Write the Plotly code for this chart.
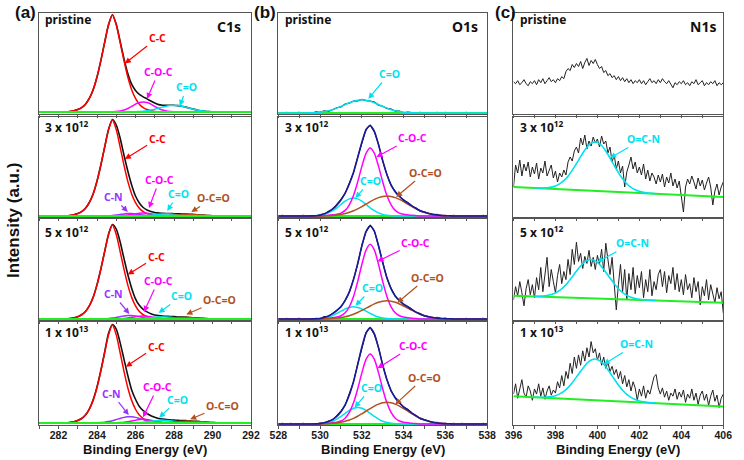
import plotly.graph_objects as go

W, H = 744, 460

# ---------------- energy grids ----------------
C1S_X = [round(281.0 + 0.2 * i, 1) for i in range(56)]
O1S_X = [round(528.0 + 0.2 * i, 1) for i in range(51)]
N1S_X = [round(396.0 + 0.1 * i, 1) for i in range(101)]
N1S_FIT_X = [round(397.0 + 0.2 * i, 1) for i in range(30)]
N1S_BG_X = [396.0, 406.0]

SAMPLES = ["pristine", "3 x 10<sup>12</sup>", "5 x 10<sup>12</sup>", "1 x 10<sup>13</sup>"]
CORE_LEVELS = ["C1s", "O1s", "N1s"]
C1S_TICKS = list(range(281, 293))
O1S_TICKS = list(range(528, 539))
N1S_TICKS = list(range(396, 407))

# ---------------- C1s ----------------
C1S_BG = [0.02, 0.01, 0.01, 0.02]

C1S_RAW_P = [0.02] * 8 + [0.025, 0.032, 0.044, 0.063, 0.097, 0.154, 0.24, 0.366, 0.529, 0.711, 0.884, 0.982, 0.888, 0.72, 0.548, 0.401, 0.295, 0.233, 0.195, 0.17, 0.15, 0.128, 0.108, 0.093, 0.087, 0.086, 0.087, 0.087, 0.083, 0.077, 0.068, 0.058, 0.048, 0.039, 0.032, 0.027, 0.024, 0.022] + [0.02] * 10
C1S_RAW_3E12 = [0.01] * 8 + [0.015, 0.022, 0.034, 0.053, 0.087, 0.145, 0.23, 0.36, 0.52, 0.70, 0.875, 0.975, 0.92, 0.79, 0.62, 0.46, 0.32, 0.21, 0.14, 0.095, 0.07, 0.055, 0.045, 0.04, 0.036, 0.035, 0.035, 0.033, 0.032, 0.03, 0.029, 0.028, 0.025, 0.022, 0.02, 0.017, 0.015, 0.013] + [0.012, 0.011, 0.011, 0.01, 0.01, 0.01, 0.01, 0.01, 0.01, 0.01]
C1S_RAW_5E12 = [0.01] * 8 + [0.015, 0.022, 0.033, 0.052, 0.085, 0.14, 0.225, 0.35, 0.505, 0.68, 0.85, 0.945, 0.90, 0.775, 0.61, 0.45, 0.315, 0.21, 0.145, 0.105, 0.08, 0.062, 0.05, 0.043, 0.039, 0.037, 0.035, 0.034, 0.03, 0.029, 0.028, 0.025, 0.022, 0.02, 0.017, 0.015, 0.013, 0.012] + [0.011, 0.011, 0.01, 0.01, 0.01, 0.01, 0.01, 0.01, 0.01, 0.01]
C1S_RAW_1E13 = [0.02] * 8 + [0.025, 0.031, 0.044, 0.063, 0.098, 0.155, 0.245, 0.37, 0.53, 0.71, 0.89, 0.975, 0.93, 0.80, 0.64, 0.48, 0.34, 0.25, 0.18, 0.14, 0.112, 0.09, 0.075, 0.064, 0.058, 0.053, 0.05, 0.047, 0.045, 0.043, 0.042, 0.04, 0.037, 0.035, 0.032, 0.029, 0.026, 0.024, 0.022, 0.021] + [0.02] * 8

C1S_CC_P = [0] * 8 + [0.005, 0.012, 0.024, 0.043, 0.077, 0.134, 0.221, 0.346, 0.509, 0.691, 0.864, 0.96, 0.864, 0.691, 0.509, 0.346, 0.221, 0.134, 0.077, 0.043, 0.024, 0.012, 0.005] + [0] * 25
C1S_CC_3E12 = [0] * 8 + [0.005, 0.012, 0.024, 0.043, 0.077, 0.134, 0.221, 0.346, 0.509, 0.691, 0.864, 0.96, 0.864, 0.691, 0.509, 0.346, 0.221, 0.134, 0.077, 0.043, 0.024, 0.012, 0.005] + [0] * 25
C1S_CC_5E12 = [0] * 8 + [0.005, 0.011, 0.023, 0.042, 0.074, 0.130, 0.214, 0.335, 0.493, 0.670, 0.837, 0.93, 0.837, 0.670, 0.493, 0.335, 0.214, 0.130, 0.074, 0.042, 0.023, 0.011, 0.005] + [0] * 25
C1S_CC_1E13 = [0] * 8 + [0.005, 0.011, 0.024, 0.043, 0.076, 0.133, 0.219, 0.342, 0.504, 0.684, 0.855, 0.95, 0.855, 0.684, 0.504, 0.342, 0.219, 0.133, 0.076, 0.043, 0.024, 0.011, 0.005] + [0] * 25

C1S_COC_P = [0] * 19 + [0.0015, 0.004, 0.009, 0.019, 0.035, 0.055, 0.077, 0.094, 0.10, 0.094, 0.077, 0.055, 0.035, 0.019, 0.009, 0.004, 0.0015] + [0] * 20
C1S_COC_3E12 = [0] * 20 + [0.0012, 0.0028, 0.0058, 0.0105, 0.0166, 0.023, 0.028, 0.03, 0.028, 0.023, 0.0166, 0.0105, 0.0058, 0.0028, 0.0012] + [0] * 21
C1S_COC_5E12 = [0] * 20 + [0.0012, 0.0028, 0.0058, 0.0105, 0.0166, 0.023, 0.028, 0.03, 0.028, 0.023, 0.0166, 0.0105, 0.0058, 0.0028, 0.0012] + [0] * 21
C1S_COC_1E13 = [0] * 20 + [0.0014, 0.0033, 0.0067, 0.0123, 0.0194, 0.027, 0.0328, 0.035, 0.0328, 0.027, 0.0194, 0.0123, 0.0067, 0.0033, 0.0014] + [0] * 21

C1S_CO_P = [0] * 24 + [0.001, 0.002, 0.004, 0.007, 0.012, 0.019, 0.028, 0.038, 0.048, 0.057, 0.063, 0.065, 0.063, 0.057, 0.048, 0.038, 0.028, 0.019, 0.012, 0.007, 0.004, 0.002, 0.001] + [0] * 9
C1S_CO_3E12 = [0] * 26 + [0.0013, 0.0026, 0.005, 0.008, 0.012, 0.016, 0.019, 0.02, 0.019, 0.016, 0.012, 0.008, 0.005, 0.0026, 0.0013] + [0] * 15
C1S_CO_5E12 = [0] * 25 + [0.0013, 0.0026, 0.005, 0.008, 0.012, 0.016, 0.019, 0.02, 0.019, 0.016, 0.012, 0.008, 0.005, 0.0026, 0.0013] + [0] * 16
C1S_CO_1E13 = [0] * 25 + [0.0022, 0.0043, 0.0073, 0.0114, 0.016, 0.0205, 0.0238, 0.025, 0.0238, 0.0205, 0.016, 0.0114, 0.0073, 0.0043, 0.0022] + [0] * 16

C1S_CN_3E12 = [0] * 17 + [0.001, 0.0024, 0.005, 0.0097, 0.0155, 0.021, 0.0245, 0.0245, 0.021, 0.0155, 0.0097, 0.005, 0.0024, 0.001] + [0] * 25
C1S_CN_5E12 = [0] * 16 + [0.0009, 0.0022, 0.0048, 0.0093, 0.0157, 0.0232, 0.0302, 0.0344, 0.0344, 0.0302, 0.0232, 0.0157, 0.0093, 0.0048, 0.0022, 0.0009] + [0] * 24
C1S_CN_1E13 = [0] * 15 + [0.0017, 0.0037, 0.0075, 0.0135, 0.022, 0.033, 0.044, 0.054, 0.059, 0.059, 0.054, 0.044, 0.033, 0.022, 0.0135, 0.0075, 0.0037, 0.0017] + [0] * 23

C1S_OCO_3E12 = [0] * 32 + [0.0013, 0.0026, 0.0044, 0.0068, 0.0096, 0.012, 0.014, 0.015, 0.014, 0.012, 0.0096, 0.0068, 0.0044, 0.0026, 0.0013] + [0] * 9
C1S_OCO_5E12 = [0] * 31 + [0.0013, 0.0026, 0.0044, 0.0068, 0.0096, 0.012, 0.014, 0.015, 0.014, 0.012, 0.0096, 0.0068, 0.0044, 0.0026, 0.0013] + [0] * 10
C1S_OCO_1E13 = [0] * 31 + [0.0011, 0.0022, 0.0038, 0.0061, 0.009, 0.0122, 0.0151, 0.0172, 0.018, 0.0172, 0.0151, 0.0122, 0.009, 0.0061, 0.0038, 0.0022, 0.0011] + [0] * 8

# ---------------- O1s ----------------
O1S_BG = [0.01, 0.01, 0.01, 0.01]

O1S_RAW_P = [0.014, 0.007, 0.016, 0.005, 0.012, 0.017, 0.006, 0.012, 0.006, 0.02, 0.016, 0.03, 0.025, 0.046, 0.062, 0.07, 0.099, 0.108, 0.128, 0.13, 0.145, 0.132, 0.129, 0.118, 0.088, 0.077, 0.055, 0.049, 0.028, 0.029, 0.012, 0.018, 0.016, 0.009, 0.016, 0.005, 0.012, 0.006, 0.017, 0.007, 0.015, 0.004, 0.012, 0.014, 0.005, 0.016, 0.007, 0.013, 0.006, 0.015, 0.008]
O1S_RAW_3E12 = [0.006, 0.016, 0.008, 0.015, 0.004, 0.013, 0.017, 0.005, 0.013, 0.01, 0.024, 0.028, 0.056, 0.074, 0.122, 0.176, 0.237, 0.334, 0.441, 0.598, 0.745, 0.876, 0.919, 0.851, 0.728, 0.558, 0.426, 0.315, 0.256, 0.207, 0.165, 0.146, 0.108, 0.09, 0.056, 0.052, 0.037, 0.022, 0.026, 0.011, 0.016, 0.01, 0.016, 0.006, 0.015, 0.004, 0.013, 0.014, 0.005, 0.016, 0.007]
O1S_RAW_5E12 = [0.014, 0.007, 0.016, 0.005, 0.012, 0.017, 0.006, 0.011, 0.005, 0.017, 0.013, 0.033, 0.033, 0.066, 0.097, 0.128, 0.198, 0.275, 0.402, 0.552, 0.738, 0.872, 0.937, 0.883, 0.73, 0.569, 0.415, 0.315, 0.234, 0.196, 0.152, 0.133, 0.106, 0.076, 0.063, 0.038, 0.034, 0.02, 0.026, 0.012, 0.018, 0.006, 0.012, 0.014, 0.005, 0.016, 0.007, 0.013, 0.006, 0.015, 0.008]
O1S_RAW_1E13 = [0.006, 0.016, 0.008, 0.015, 0.004, 0.013, 0.017, 0.005, 0.012, 0.008, 0.019, 0.019, 0.039, 0.048, 0.087, 0.135, 0.193, 0.295, 0.416, 0.59, 0.754, 0.898, 0.947, 0.879, 0.753, 0.579, 0.442, 0.329, 0.267, 0.216, 0.172, 0.152, 0.113, 0.093, 0.059, 0.053, 0.038, 0.023, 0.026, 0.011, 0.016, 0.01, 0.016, 0.006, 0.015, 0.004, 0.013, 0.014, 0.005, 0.016, 0.007]

O1S_CO_P = [0] * 7 + [0.0012, 0.0024, 0.0045, 0.008, 0.014, 0.022, 0.033, 0.048, 0.065, 0.083, 0.101, 0.116, 0.126, 0.13, 0.126, 0.116, 0.101, 0.083, 0.065, 0.048, 0.033, 0.022, 0.014, 0.008, 0.0045, 0.0024, 0.0012] + [0] * 17

O1S_COC_3E12 = [0] * 11 + [0.0035, 0.007, 0.012, 0.017, 0.029, 0.056, 0.112, 0.205, 0.34, 0.496, 0.627, 0.68, 0.627, 0.496, 0.34, 0.205, 0.112, 0.056, 0.029, 0.017, 0.012, 0.007, 0.0035] + [0] * 17
O1S_CO_3E12 = [0] * 8 + [0.001, 0.003, 0.008, 0.016, 0.031, 0.053, 0.082, 0.115, 0.148, 0.171, 0.18, 0.171, 0.148, 0.115, 0.082, 0.053, 0.031, 0.016, 0.008, 0.003, 0.001] + [0] * 22
O1S_OCO_3E12 = [0] * 11 + [0.002, 0.003, 0.006, 0.010, 0.016, 0.025, 0.037, 0.052, 0.072, 0.094, 0.118, 0.143, 0.166, 0.184, 0.196, 0.2, 0.196, 0.184, 0.166, 0.143, 0.118, 0.094, 0.072, 0.052, 0.037, 0.025, 0.016, 0.010, 0.006, 0.003, 0.002] + [0] * 9

O1S_COC_5E12 = [0] * 11 + [0.0037, 0.0074, 0.013, 0.019, 0.032, 0.061, 0.121, 0.223, 0.37, 0.539, 0.682, 0.74, 0.682, 0.539, 0.37, 0.223, 0.121, 0.061, 0.032, 0.019, 0.013, 0.0074, 0.0037] + [0] * 17
O1S_CO_5E12 = [0] * 8 + [0.001, 0.002, 0.005, 0.011, 0.020, 0.035, 0.0545, 0.077, 0.0985, 0.114, 0.12, 0.114, 0.0985, 0.077, 0.0545, 0.035, 0.020, 0.011, 0.005, 0.002, 0.001] + [0] * 22
O1S_OCO_5E12 = [0] * 11 + [0.002, 0.003, 0.005, 0.009, 0.014, 0.022, 0.033, 0.047, 0.064, 0.085, 0.107, 0.129, 0.149, 0.166, 0.176, 0.18, 0.176, 0.166, 0.149, 0.129, 0.107, 0.085, 0.064, 0.047, 0.033, 0.022, 0.014, 0.009, 0.005, 0.003, 0.002] + [0] * 9

O1S_COC_1E13 = [0] * 11 + [0.0035, 0.007, 0.012, 0.017, 0.029, 0.056, 0.112, 0.205, 0.34, 0.496, 0.627, 0.68, 0.627, 0.496, 0.34, 0.205, 0.112, 0.056, 0.029, 0.017, 0.012, 0.007, 0.0035] + [0] * 17
O1S_CO_1E13 = [0] * 9 + [0.001, 0.003, 0.007, 0.014, 0.027, 0.047, 0.073, 0.103, 0.131, 0.152, 0.16, 0.152, 0.131, 0.103, 0.073, 0.047, 0.027, 0.014, 0.007, 0.003, 0.001] + [0] * 21
O1S_OCO_1E13 = [0] * 11 + [0.002, 0.003, 0.006, 0.010, 0.017, 0.026, 0.038, 0.055, 0.075, 0.099, 0.124, 0.150, 0.174, 0.193, 0.206, 0.21, 0.206, 0.193, 0.174, 0.150, 0.124, 0.099, 0.075, 0.055, 0.038, 0.026, 0.017, 0.010, 0.006, 0.003, 0.002] + [0] * 9

# ---------------- N1s ----------------
N1S_RAW_P = [0.32, 0.30, 0.33, 0.29, 0.31, 0.34, 0.30, 0.28, 0.32, 0.30,
             0.33, 0.29, 0.34, 0.31, 0.35, 0.30, 0.33, 0.36, 0.32, 0.34,
             0.31, 0.35, 0.33, 0.37, 0.35, 0.42, 0.45, 0.43, 0.49, 0.46,
             0.50, 0.47, 0.52, 0.45, 0.51, 0.55, 0.48, 0.53, 0.50, 0.54,
             0.49, 0.45, 0.47, 0.41, 0.43, 0.38, 0.40, 0.36, 0.38, 0.34,
             0.37, 0.33, 0.36, 0.32, 0.35, 0.31, 0.34, 0.30, 0.33, 0.31,
             0.34, 0.30, 0.33, 0.29, 0.32, 0.35, 0.31, 0.33, 0.30, 0.34,
             0.31, 0.35, 0.32, 0.30, 0.33, 0.29, 0.26, 0.31, 0.29, 0.32,
             0.30, 0.33, 0.29, 0.31, 0.28, 0.32, 0.30, 0.34, 0.29, 0.31,
             0.33, 0.28, 0.31, 0.29, 0.32, 0.30, 0.33, 0.28, 0.31, 0.29,
             0.31]
N1S_RAW_3E12 = [0.30, 0.52, 0.44, 0.57, 0.41, 0.53, 0.46, 0.55, 0.40, 0.50,
                0.43, 0.54, 0.38, 0.49, 0.44, 0.56, 0.41, 0.47, 0.52, 0.39,
                0.46, 0.35, 0.44, 0.40, 0.47, 0.42, 0.55, 0.60, 0.56, 0.66,
                0.70, 0.64, 0.79, 0.72, 0.82, 0.68, 0.76, 0.71, 0.80, 0.74,
                0.78, 0.70, 0.81, 0.73, 0.76, 0.64, 0.70, 0.55, 0.62, 0.48,
                0.56, 0.44, 0.51, 0.30, 0.45, 0.52, 0.60, 0.48, 0.55, 0.44,
                0.50, 0.42, 0.53, 0.38, 0.47, 0.36, 0.44, 0.40, 0.33, 0.42,
                0.35, 0.43, 0.30, 0.40, 0.34, 0.44, 0.31, 0.38, 0.29, 0.36,
                0.18, 0.05, 0.30, 0.38, 0.33, 0.41, 0.35, 0.28, 0.39, 0.31,
                0.37, 0.27, 0.34, 0.40, 0.30, 0.12, 0.26, 0.33, 0.22, 0.30,
                0.35]
N1S_RAW_5E12 = [0.20, 0.33, 0.24, 0.38, 0.27, 0.14, 0.31, 0.40, 0.25, 0.35,
                0.22, 0.42, 0.30, 0.52, 0.28, 0.45, 0.62, 0.33, 0.50, 0.38,
                0.27, 0.44, 0.55, 0.36, 0.48, 0.40, 0.60, 0.45, 0.70, 0.55,
                0.77, 0.58, 0.66, 0.51, 0.63, 0.56, 0.69, 0.53, 0.62, 0.50,
                0.64, 0.55, 0.70, 0.48, 0.76, 0.60, 0.45, 0.62, 0.38, 0.10,
                0.35, 0.55, 0.28, 0.50, 0.20, 0.46, 0.30, 0.52, 0.26, 0.44,
                0.32, 0.48, 0.22, 0.40, 0.28, 0.50, 0.24, 0.38, 0.30, 0.45,
                0.50, 0.33, 0.48, 0.27, 0.44, 0.36, 0.52, 0.30, 0.46, 0.28,
                0.40, 0.25, 0.45, 0.30, 0.36, 0.22, 0.42, 0.28, 0.38, 0.15,
                0.33, 0.24, 0.40, 0.20, 0.35, 0.27, 0.17, 0.32, 0.21, 0.28,
                0.07]
N1S_RAW_1E13 = [0.30, 0.40, 0.26, 0.36, 0.44, 0.31, 0.27, 0.38, 0.33, 0.24,
                0.35, 0.30, 0.40, 0.28, 0.36, 0.25, 0.33, 0.38, 0.29, 0.34,
                0.31, 0.42, 0.36, 0.48, 0.38, 0.52, 0.45, 0.60, 0.50, 0.66,
                0.55, 0.68, 0.58, 0.72, 0.62, 0.75, 0.66, 0.81, 0.70, 0.74,
                0.63, 0.70, 0.58, 0.66, 0.55, 0.61, 0.52, 0.57, 0.49, 0.54,
                0.45, 0.52, 0.40, 0.48, 0.37, 0.44, 0.33, 0.42, 0.36, 0.24,
                0.35, 0.28, 0.38, 0.26, 0.34, 0.30, 0.40, 0.47, 0.49, 0.36,
                0.30, 0.36, 0.27, 0.33, 0.24, 0.31, 0.28, 0.35, 0.25, 0.32,
                0.27, 0.34, 0.22, 0.30, 0.26, 0.35, 0.24, 0.31, 0.20, 0.29,
                0.33, 0.24, 0.30, 0.19, 0.28, 0.34, 0.23, 0.29, 0.17, 0.26,
                0.30]

N1S_OCN_3E12 = [0.291, 0.290, 0.290, 0.292, 0.299, 0.311, 0.331, 0.363, 0.408, 0.466, 0.533, 0.604, 0.670, 0.721, 0.748, 0.746, 0.715, 0.660, 0.590, 0.515, 0.444, 0.382, 0.333, 0.297, 0.273, 0.257, 0.246, 0.240, 0.236, 0.233]
N1S_OCN_5E12 = [0.234, 0.235, 0.237, 0.242, 0.252, 0.268, 0.293, 0.328, 0.374, 0.427, 0.483, 0.535, 0.575, 0.597, 0.595, 0.571, 0.528, 0.473, 0.415, 0.359, 0.310, 0.272, 0.244, 0.225, 0.213, 0.205, 0.200, 0.197, 0.194, 0.193]
N1S_OCN_1E13 = [0.271, 0.270, 0.269, 0.271, 0.276, 0.285, 0.302, 0.327, 0.363, 0.410, 0.465, 0.522, 0.576, 0.617, 0.639, 0.637, 0.611, 0.566, 0.508, 0.447, 0.388, 0.337, 0.297, 0.268, 0.247, 0.234, 0.225, 0.219, 0.216, 0.213]

N1S_BG_3E12 = [0.30, 0.20]
N1S_BG_5E12 = [0.24, 0.17]
N1S_BG_1E13 = [0.28, 0.18]

# ---------------- styling ----------------
BLACK = "#111111"
RED = "#ff0000"
MAGENTA = "#ff00ff"
CYAN = "#00e1f0"
PURPLE = "#9933ff"
BROWN = "#b0521e"
GREEN = "#22ee22"
NAVY = "#1a1a9c"
FRAME = "#555555"
ANN_FONT = "Noto Sans, Open Sans, sans-serif"
AX_FONT = "Liberation Sans, Arial, sans-serif"

COL_PX = [(31, 248), (276, 490), (517, 732)]
ROW_PX = [(13, 114), (117, 217), (219, 320), (322, 425)]
COL_RANGE = [(281, 292), (528, 538), (396, 406)]
COL_TICKS = [C1S_TICKS, O1S_TICKS, N1S_TICKS]

fig = go.Figure()


def ref(k):
    return "" if k == 1 else str(k)


def add_line(x, y, color, k, width=1.5, shape="spline"):
    line = dict(color=color, width=width, shape=shape)
    if shape == "spline":
        line["smoothing"] = 0.7
    fig.add_trace(go.Scatter(x=x, y=y, mode="lines", line=line,
                             xaxis="x" + ref(k), yaxis="y" + ref(k),
                             showlegend=False, hoverinfo="skip"))


def on_bg(comp, bg):
    return [bg + v for v in comp]


# C1s panels
c1s_rows = [
    (C1S_RAW_P, [(C1S_CC_P, RED), (C1S_COC_P, MAGENTA), (C1S_CO_P, CYAN)]),
    (C1S_RAW_3E12, [(C1S_CC_3E12, RED), (C1S_CN_3E12, PURPLE), (C1S_COC_3E12, MAGENTA), (C1S_CO_3E12, CYAN), (C1S_OCO_3E12, BROWN)]),
    (C1S_RAW_5E12, [(C1S_CC_5E12, RED), (C1S_CN_5E12, PURPLE), (C1S_COC_5E12, MAGENTA), (C1S_CO_5E12, CYAN), (C1S_OCO_5E12, BROWN)]),
    (C1S_RAW_1E13, [(C1S_CC_1E13, RED), (C1S_CN_1E13, PURPLE), (C1S_COC_1E13, MAGENTA), (C1S_CO_1E13, CYAN), (C1S_OCO_1E13, BROWN)]),
]
for r, (raw, comps) in enumerate(c1s_rows):
    k = r * 3 + 1
    bg = C1S_BG[r]
    add_line(C1S_X, raw, BLACK, k, 1.6)
    for comp, col in comps:
        add_line(C1S_X, on_bg(comp, bg), col, k, 1.5)
    add_line([281, 292], [bg, bg], GREEN, k, 2, "linear")

# O1s panels
o1s_rows = [
    (O1S_RAW_P, None, O1S_CO_P, None),
    (O1S_RAW_3E12, O1S_COC_3E12, O1S_CO_3E12, O1S_OCO_3E12),
    (O1S_RAW_5E12, O1S_COC_5E12, O1S_CO_5E12, O1S_OCO_5E12),
    (O1S_RAW_1E13, O1S_COC_1E13, O1S_CO_1E13, O1S_OCO_1E13),
]
for r, (raw, coc, co, oco) in enumerate(o1s_rows):
    k = r * 3 + 2
    bg = O1S_BG[r]
    add_line(O1S_X, raw, BLACK, k, 1.2, "linear")
    add_line([528, 538], [bg, bg], GREEN, k, 2, "linear")
    add_line(O1S_X, on_bg(co, bg), CYAN, k, 1.5)
    if coc is not None:
        add_line(O1S_X, on_bg(coc, bg), MAGENTA, k, 1.5)
        add_line(O1S_X, on_bg(oco, bg), BROWN, k, 1.5)
        env = [bg + a + b + c for a, b, c in zip(coc, co, oco)]
        add_line(O1S_X, env, NAVY, k, 1.6)

# N1s panels
n1s_rows = [
    (N1S_RAW_P, None, None),
    (N1S_RAW_3E12, N1S_OCN_3E12, N1S_BG_3E12),
    (N1S_RAW_5E12, N1S_OCN_5E12, N1S_BG_5E12),
    (N1S_RAW_1E13, N1S_OCN_1E13, N1S_BG_1E13),
]
for r, (raw, fit, bgl) in enumerate(n1s_rows):
    k = r * 3 + 3
    add_line(N1S_X, raw, "#222222", k, 1.0, "linear")
    if fit is not None:
        add_line(N1S_BG_X, bgl, GREEN, k, 2, "linear")
        add_line(N1S_FIT_X, fit, CYAN, k, 1.6)

# axes
layout_axes = {}
for r in range(4):
    for c in range(3):
        k = r * 3 + c + 1
        x0, x1 = COL_PX[c]
        y0, y1 = ROW_PX[r]
        ticks = COL_TICKS[c]
        major = [v for v in ticks if v % 2 == 0]
        minor = [v for v in ticks if v % 2 == 1]
        layout_axes["xaxis" + ref(k)] = dict(
            domain=[x0 / W, x1 / W], range=list(COL_RANGE[c]), anchor="y" + ref(k),
            showline=True, mirror=True, linecolor=FRAME, linewidth=1,
            ticks="outside", ticklen=3, tickwidth=1, tickcolor=FRAME,
            tickmode="array", tickvals=major, ticktext=[str(v) for v in major],
            minor=dict(tickmode="array", tickvals=minor, ticks="outside", ticklen=3,
                       tickwidth=1, tickcolor=FRAME, showgrid=False),
            showticklabels=(r == 3), ticklabelstandoff=-3,
            tickfont=dict(family=AX_FONT, size=10.5, color="#1a1a1a", weight="bold"),
            showgrid=False, zeroline=False, fixedrange=True)
        layout_axes["yaxis" + ref(k)] = dict(
            domain=[1 - y1 / H, 1 - y0 / H], range=[0, 1], anchor="x" + ref(k),
            showline=True, mirror=True, linecolor=FRAME, linewidth=1,
            ticks="", showticklabels=False, showgrid=False, zeroline=False, fixedrange=True)

annotations = []


def px_of(c, r, e, y):
    x0, x1 = COL_PX[c]
    lo, hi = COL_RANGE[c]
    y0, y1 = ROW_PX[r]
    return x0 + (e - lo) / (hi - lo) * (x1 - x0), y1 - y * (y1 - y0)


def label(c, r, text, color, e, y, tx, ty):
    k = r * 3 + c + 1
    px, py = px_of(c, r, e, y)
    annotations.append(dict(
        x=e, y=y, xref="x" + ref(k), yref="y" + ref(k), text="<b>%s</b>" % text,
        showarrow=True, arrowhead=2, arrowsize=1, arrowwidth=1.2, arrowcolor=color,
        ax=tx - px, ay=ty - py, standoff=0, startstandoff=0,
        font=dict(family=ANN_FONT, size=10.5, color=color)))


# C1s labels
label(0, 0, "C-C", RED, 285.45, 0.50, 151, 38)
label(0, 0, "C-O-C", MAGENTA, 286.6, 0.15, 153, 72)
label(0, 0, "C=O", CYAN, 288.3, 0.08, 182, 87.5)
label(0, 1, "C-C", RED, 285.45, 0.58, 151, 139)
label(0, 1, "C-N", PURPLE, 285.6, 0.05, 107, 197)
label(0, 1, "C-O-C", MAGENTA, 286.7, 0.09, 154, 180)
label(0, 1, "C=O", CYAN, 287.65, 0.06, 173, 194)
label(0, 1, "O-C=O", BROWN, 288.9, 0.05, 209, 198)
label(0, 2, "C-C", RED, 285.6, 0.45, 150, 257)
label(0, 2, "C-N", PURPLE, 285.68, 0.06, 107, 294)
label(0, 2, "C-O-C", MAGENTA, 286.44, 0.08, 152.5, 281)
label(0, 2, "C=O", CYAN, 287.2, 0.07, 176.7, 296)
label(0, 2, "O-C=O", BROWN, 288.64, 0.055, 215, 300)
label(0, 3, "C-C", RED, 285.5, 0.566, 150, 346.7)
label(0, 3, "C-N", PURPLE, 285.65, 0.097, 105.8, 393.7)
label(0, 3, "C-O-C", MAGENTA, 286.39, 0.075, 152, 387)
label(0, 3, "C=O", CYAN, 287.23, 0.071, 172.7, 399.7)
label(0, 3, "O-C=O", BROWN, 288.84, 0.055, 218, 405.7)
# O1s labels
label(1, 0, "C=O", CYAN, 532.31, 0.15, 389, 74)
label(1, 1, "C-O-C", MAGENTA, 532.7, 0.6, 412.5, 137.5)
label(1, 1, "O-C=O", BROWN, 533.64, 0.2, 425.8, 172.5)
label(1, 1, "C=O", CYAN, 531.69, 0.19, 370, 180.8)
label(1, 2, "C-O-C", MAGENTA, 532.75, 0.58, 415.8, 242.5)
label(1, 2, "O-C=O", BROWN, 533.7, 0.17, 428, 277.5)
label(1, 2, "C=O", CYAN, 531.69, 0.14, 372, 288)
label(1, 3, "C-O-C", MAGENTA, 532.75, 0.55, 413.8, 345.5)
label(1, 3, "O-C=O", BROWN, 533.6, 0.2, 425, 377.5)
label(1, 3, "C=O", CYAN, 531.65, 0.17, 371, 388)
# N1s labels
label(2, 1, "O=C-N", CYAN, 400.6, 0.59, 649, 139)
label(2, 2, "O=C-N", CYAN, 400.0, 0.575, 638, 243.3)
label(2, 3, "O=C-N", CYAN, 400.3, 0.59, 642.5, 344)


def paper_text(text, px, py, size, xanchor="left", family=ANN_FONT, angle=0):
    annotations.append(dict(
        x=px / W, y=1 - py / H, xref="paper", yref="paper", text="<b>%s</b>" % text,
        showarrow=False, xanchor=xanchor, yanchor="middle", textangle=angle,
        font=dict(family=family, size=size, color="#111111")))


SAMPLE_Y = [20, 127, 231.7, 331.7]
SAMPLE_X = [35, 281, 522]
for c in range(3):
    for r in range(4):
        paper_text(SAMPLES[r], SAMPLE_X[c], SAMPLE_Y[r], 12)
CORE_X = [240, 483, 727]
for c in range(3):
    paper_text(CORE_LEVELS[c], CORE_X[c], 27, 14, xanchor="right")

for txt, px in [("(a)", 16.7), ("(b)", 262.5), ("(c)", 508.5)]:
    paper_text(txt, px, 13, 17, xanchor="center", family=AX_FONT)

for c in range(3):
    cx = (COL_PX[c][0] + COL_PX[c][1]) / 2
    paper_text("Binding Energy (eV)", cx, 449, 13, xanchor="center", family=AX_FONT)

paper_text("Intensity (a.u.)", 4, 220, 17, xanchor="center", family=AX_FONT, angle=-90)

fig.update_layout(
    width=W, height=H, margin=dict(l=0, r=0, t=0, b=0),
    paper_bgcolor="white", plot_bgcolor="white", showlegend=False,
    annotations=annotations, **layout_axes)

fig.write_html("out.html", config={"displayModeBar": False},
               post_script="document.body.style.margin='0px';")
